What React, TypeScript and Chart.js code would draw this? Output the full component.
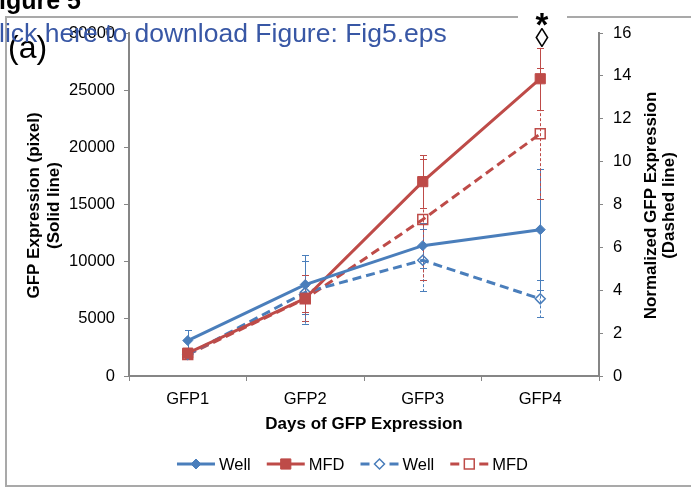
import React, { useEffect, useRef } from 'react';
import { Chart, registerables } from 'chart.js';

Chart.register(...registerables);

// ---------- data ----------
const categories = ['GFP1', 'GFP2', 'GFP3', 'GFP4'];
const seriesLabels = ['Well', 'MFD', 'Well', 'MFD'];
// solid lines, left axis (pixel)
const wellPixel = [3100, 8000, 11400, 12800];
const wellPixelErr = [900, 2550, 1950, 5300];
const mfdPixel = [2000, 6800, 17000, 26000];
const mfdPixelErr = [250, 2000, 2300, 2700];
// dashed lines, right axis (normalized)
const wellNorm = [1.0, 3.9, 5.4, 3.6];
const wellNormErr = [0.2, 1.48, 1.45, 0.86];
const mfdNorm = [1.0, 3.6, 7.3, 11.3];
const mfdNormErr = [0.15, 0.6, 2.8, 3.06];
// axes
const leftMax = 30000;
const leftStep = 5000;
const rightMax = 16;
const rightStep = 2;
const xTitle = 'Days of GFP Expression';
const leftTitle = ['GFP Expression (pixel)', '(Solid line)'];
const rightTitle = ['Normalized GFP Expression', '(Dashed line)'];

const BLUE = '#4A7EBB';
const RED = '#BE4B48';
const AXIS = '#868686';
const FONT = '"Liberation Sans", Arial, sans-serif';

const errorBarPlugin = {
  id: 'errorBars',
  beforeDatasetsDraw(chart: any) {
    const ctx = chart.ctx;
    chart.data.datasets.forEach((ds: any, di: number) => {
      const meta = chart.getDatasetMeta(di);
      const scale = chart.scales[ds.yAxisID];
      ctx.save();
      ctx.strokeStyle = ds.borderColor;
      ctx.lineWidth = 1;
      ctx.setLineDash(ds.errDash || []);
      meta.data.forEach((pt: any, i: number) => {
        const v = ds.data[i];
        const e = ds.errors[i];
        const yT = scale.getPixelForValue(v + e);
        const yB = scale.getPixelForValue(v - e);
        const x = Math.round(pt.x) + 0.5;
        ctx.beginPath();
        ctx.moveTo(x, yT);
        ctx.lineTo(x, yB);
        ctx.stroke();
        ctx.setLineDash([]);
        ctx.beginPath();
        ctx.moveTo(x - 3.5, Math.round(yT) + 0.5);
        ctx.lineTo(x + 3.5, Math.round(yT) + 0.5);
        ctx.moveTo(x - 3.5, Math.round(yB) + 0.5);
        ctx.lineTo(x + 3.5, Math.round(yB) + 0.5);
        ctx.stroke();
        ctx.setLineDash(ds.errDash || []);
      });
      ctx.restore();
    });
  },
};

function drawMarker(ctx: any, style: string, x: number, y: number, r: number, fill: string | null, stroke: string, bw: number) {
  ctx.beginPath();
  if (style === 'rectRot') {
    ctx.moveTo(x, y - r);
    ctx.lineTo(x + r, y);
    ctx.lineTo(x, y + r);
    ctx.lineTo(x - r, y);
    ctx.closePath();
  } else {
    const s = r * Math.SQRT1_2;
    ctx.rect(x - s, y - s, 2 * s, 2 * s);
  }
  if (fill) {
    ctx.fillStyle = fill;
    ctx.fill();
  }
  ctx.setLineDash([]);
  ctx.lineWidth = bw;
  ctx.strokeStyle = stroke;
  ctx.stroke();
}

const decorPlugin = {
  id: 'decor',
  afterDraw(chart: any) {
    const ctx = chart.ctx;
    const area = chart.chartArea;
    const yc = (area.top + area.bottom) / 2 + 1;
    ctx.save();
    ctx.font = 'bold 17px ' + FONT;
    ctx.fillStyle = '#000';
    ctx.textAlign = 'center';
    ctx.textBaseline = 'middle';
    const drawV = (lines: string[], x0: number, sp: number) => {
      lines.forEach((t, i) => {
        ctx.save();
        ctx.translate(x0 + i * sp, yc);
        ctx.rotate(-Math.PI / 2);
        ctx.fillText(t, 0, 0);
        ctx.restore();
      });
    };
    drawV(leftTitle, 34.5, 20);
    drawV(rightTitle, 651.5, 18);
    ctx.restore();

    // legend
    ctx.save();
    ctx.font = '16.5px ' + FONT;
    const lineLen = 38;
    const textGap = 4;
    const itemGap = 16;
    const ds = chart.data.datasets;
    const widths = ds.map((d: any) => lineLen + textGap + ctx.measureText(d.label).width);
    const total = widths.reduce((a: number, b: number) => a + b, 0) + itemGap * (ds.length - 1);
    let x = 352.5 - total / 2;
    const y = 464;
    ds.forEach((d: any, i: number) => {
      ctx.strokeStyle = d.borderColor;
      ctx.lineWidth = 3;
      ctx.beginPath();
      if (d.borderDash && d.borderDash.length) {
        ctx.moveTo(x, y); ctx.lineTo(x + 9, y);
        ctx.moveTo(x + 14.5, y); ctx.lineTo(x + 23.5, y);
        ctx.moveTo(x + 29, y); ctx.lineTo(x + 38, y);
      } else {
        ctx.moveTo(x, y); ctx.lineTo(x + lineLen, y);
      }
      ctx.stroke();
      const filled = d.pointBackgroundColor !== 'rgba(0,0,0,0)';
      drawMarker(ctx, d.pointStyle, x + lineLen / 2, y, d.pointRadius, filled ? d.pointBackgroundColor : '#fff', d.pointBorderColor, d.pointBorderWidth);
      ctx.fillStyle = '#000';
      ctx.textAlign = 'left';
      ctx.textBaseline = 'middle';
      ctx.fillText(d.label, x + lineLen + textGap, y + 1);
      x += widths[i] + itemGap;
    });
    ctx.restore();
  },
};

export default function App() {
  const ref = useRef<HTMLCanvasElement>(null);
  useEffect(() => {
    const tickFont = { family: FONT, size: 16.5 };
    const chart = new Chart(ref.current as HTMLCanvasElement, {
      type: 'line',
      data: {
        labels: categories,
        datasets: [
          {
            label: seriesLabels[0], data: wellPixel, errors: wellPixelErr, yAxisID: 'y',
            borderColor: BLUE, backgroundColor: BLUE, borderWidth: 3,
            pointStyle: 'rectRot', pointRadius: 5, pointBackgroundColor: BLUE, pointBorderColor: BLUE, pointBorderWidth: 1,
          },
          {
            label: seriesLabels[1], data: mfdPixel, errors: mfdPixelErr, yAxisID: 'y',
            borderColor: RED, backgroundColor: RED, borderWidth: 3,
            pointStyle: 'rect', pointRadius: 7.2, pointBackgroundColor: RED, pointBorderColor: RED, pointBorderWidth: 1,
          },
          {
            label: seriesLabels[2], data: wellNorm, errors: wellNormErr, yAxisID: 'y1', errDash: [3, 2],
            borderColor: BLUE, backgroundColor: BLUE, borderWidth: 3, borderDash: [9, 5],
            pointStyle: 'rectRot', pointRadius: 5, pointBackgroundColor: 'rgba(0,0,0,0)', pointBorderColor: BLUE, pointBorderWidth: 1.5,
          },
          {
            label: seriesLabels[3], data: mfdNorm, errors: mfdNormErr, yAxisID: 'y1', errDash: [3, 2],
            borderColor: RED, backgroundColor: RED, borderWidth: 3, borderDash: [9, 5],
            pointStyle: 'rect', pointRadius: 7, pointBackgroundColor: 'rgba(0,0,0,0)', pointBorderColor: RED, pointBorderWidth: 1.5,
          },
        ] as any,
      },
      options: {
        responsive: false,
        animation: false,
        devicePixelRatio: 1,
        layout: { padding: { top: 33, left: 0, right: 0, bottom: 0 } },
        plugins: { legend: { display: false }, tooltip: { enabled: false } },
        elements: { line: { tension: 0 } },
        scales: {
          x: {
            type: 'category',
            offset: true,
            grid: { display: true, offset: true, drawOnChartArea: false, drawTicks: true, tickLength: 5, color: AXIS, lineWidth: 1 },
            border: { display: true, color: AXIS, width: 2 },
            ticks: { font: tickFont, color: '#000', padding: 9, maxRotation: 0 },
            title: { display: true, text: xTitle, font: { family: FONT, size: 17, weight: 'bold' }, color: '#000', padding: { top: 0, bottom: 55.5 } },
            afterFit: (s: any) => { s.height = 114; },
          },
          y: {
            type: 'linear', position: 'left', min: 0, max: leftMax,
            grid: { display: true, drawOnChartArea: false, drawTicks: true, tickLength: 5, color: AXIS, lineWidth: 1 },
            border: { display: true, color: AXIS, width: 2 },
            ticks: { stepSize: leftStep, font: tickFont, color: '#000', padding: 9, callback: (v: any) => String(v) },
            afterFit: (s: any) => { s.width = 129; },
          },
          y1: {
            type: 'linear', position: 'right', min: 0, max: rightMax,
            grid: { display: true, drawOnChartArea: false, drawTicks: true, tickLength: 4, color: AXIS, lineWidth: 1 },
            border: { display: true, color: AXIS, width: 2 },
            ticks: { stepSize: rightStep, font: tickFont, color: '#000', padding: 10, callback: (v: any) => String(v) },
            afterFit: (s: any) => { s.width = 92; },
          },
        },
      } as any,
      plugins: [errorBarPlugin, decorPlugin],
    });
    return () => chart.destroy();
  }, []);

  const abs: React.CSSProperties = { position: 'absolute', whiteSpace: 'nowrap', lineHeight: 1 };
  return (
    <div style={{ position: 'fixed', left: 0, top: 0, width: 691, height: 490, overflow: 'hidden', background: '#fff', fontFamily: FONT }}>
      <div style={{ position: 'absolute', left: 5, top: 16, width: 720, height: 467, border: '2px solid #a9a9a9' }} />
      <canvas ref={ref} width={691} height={490} style={{ position: 'absolute', left: 0, top: 0, width: 691, height: 490 }} />
      <div style={{ position: 'absolute', left: 518, top: 14, width: 49, height: 7, background: '#fff' }} />
      <div style={{ ...abs, left: 517, top: 8, width: 50, textAlign: 'center', fontSize: 33, fontWeight: 'bold', color: '#000' }}>*</div>
      <div style={{ ...abs, left: 517, top: 25, width: 50, textAlign: 'center', fontSize: 27, color: '#000' }}>◊</div>
      <div style={{ ...abs, left: 8, top: 31, fontSize: 32, color: '#000' }}>(a)</div>
      <div style={{ ...abs, left: -1, top: 19.6, fontSize: 26.5, color: '#3857A5' }}>lick here to download Figure: Fig5.eps</div>
      <div style={{ ...abs, left: -1, top: -12, fontSize: 25, fontWeight: 'bold', color: '#000' }}>igure 5</div>
    </div>
  );
}
